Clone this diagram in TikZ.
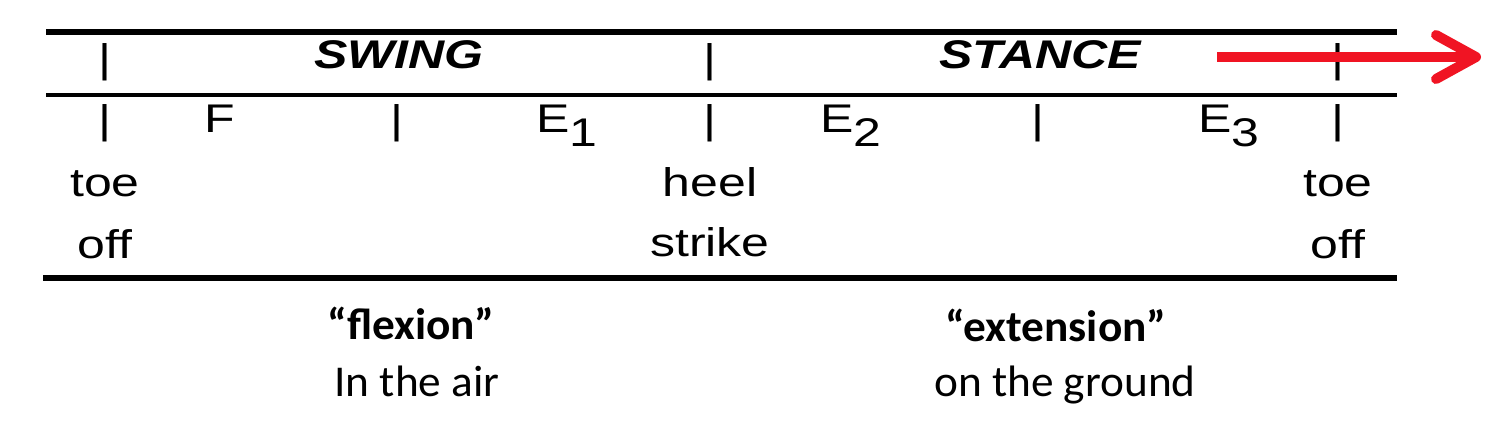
\documentclass[tikz,border=0pt]{standalone}
\usepackage{fontspec}
\setmainfont{Liberation Sans}[FakeStretch=1.25]
\newfontfamily\notefont{Carlito}[FakeStretch=1.03]
\usetikzlibrary{arrows.meta, positioning}
\definecolor{arrowred}{RGB}{240,20,35}
\tikzstyle{every node}=[font=\fontsize{20}{24}\selectfont, inner sep=0pt, anchor=base]
\tikzstyle{phase}=[font=\fontsize{20}{24}\selectfont\bfseries\itshape]
\tikzstyle{divider}=[anchor=center]
\tikzstyle{note}=[font=\notefont\fontsize{22}{26}\selectfont]
\tikzstyle{rule}=[line width=3pt]
\newcommand{\lowidx}[1]{\raisebox{-7pt}{#1}}

\begin{document}
\begin{tikzpicture}[x=0.5pt, y=-0.5pt, >={Straight Barb[length=20pt,width=22pt,round]}, node distance=30pt]
  \useasboundingbox (0,0) rectangle (1494,440);
  % rules
  \draw[rule] (46,31.5) -- (1397,31.5);
  \draw[line width=2pt] (46,94.7) -- (1397,94.7);
  \draw[rule] (43,278.3) -- (1397,278.3);
  % phase row
  \node[divider] (p1) at (105,62) {|};
  \node[phase] (swing) at (399,68.3) {SWING};
  \node[divider] (p2) at (710,62) {|};
  \node[phase] (stance) at (1040,68.3) {STANCE};
  \node[divider] (p3) at (1338,62) {|};
  % sub-phase row
  \node[divider] (s1) at (105,123.4) {|};
  \node (f) at (220,132.5) {F};
  \node[divider] (s2) at (397,123.4) {|};
  \node (e1) at (567,132.5) {E\lowidx{1}};
  \node[divider] (s3) at (710,123.4) {|};
  \node (e2) at (851,132.5) {E\lowidx{2}};
  \node[divider] (s4) at (1038,123.4) {|};
  \node (e3) at (1229,132.5) {E\lowidx{3}};
  \node[divider] (s5) at (1338,123.4) {|};
  % events
  \node (toe1) at (105,196.7) {toe};
  \node[below of=toe1] (off1) {off};
  \node (heel) at (710,196.7) {heel};
  \node[below of=heel] (strike) {strike};
  \node (toe2) at (1338,196.7) {toe};
  \node[below of=toe2] (off2) {off};
  % notes
  \node[note] (flex) at (411,339.5) {\bfseries “flexion”};
  \node[note] (air) at (417,396.7) {In the air};
  \node[note] (ext) at (1056,341.5) {\bfseries “extension”};
  \node[note] (ground) at (1065,396.7) {on the ground};
  % direction
  \coordinate (tail) at (1217,57);
  \coordinate (head) at (1481,57);
  \draw[->, arrowred, line width=5pt] (tail) -- (head);
\end{tikzpicture}
\end{document}
